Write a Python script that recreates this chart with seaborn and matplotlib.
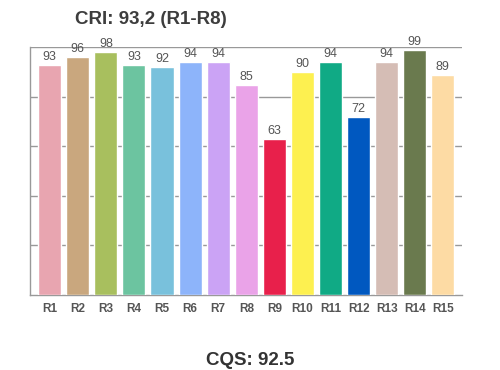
import matplotlib
matplotlib.use("Agg")
import matplotlib.pyplot as plt
import seaborn as sns
import pandas as pd

categories = ["R1", "R2", "R3", "R4", "R5", "R6", "R7", "R8", "R9", "R10", "R11", "R12", "R13", "R14", "R15"]
values = [93, 96, 98, 93, 92, 94, 94, 85, 63, 90, 94, 72, 94, 99, 89]
colors = ["#E8A5B0", "#C9A77E", "#A8BF5E", "#6CC4A0", "#79C1DC", "#8DB4FA", "#CBA3F5", "#EAA3E8",
          "#E8204B", "#FDF050", "#10AA85", "#0058C0", "#D5BDB5", "#6A7A4E", "#FDDBA4"]

sns.set_style("white")
plt.rcParams['font.family'] = ['Liberation Sans', 'DejaVu Sans']

df = pd.DataFrame({"cat": categories, "val": values})
fig = plt.figure(figsize=(5, 3.7), dpi=100)
ax = fig.add_axes([0.06, 0.2027, 0.864, 0.669])
sns.barplot(data=df, x="cat", y="val", hue="cat", palette=colors, legend=False,
            width=0.82, saturation=1, ax=ax, zorder=3)
ax.set_ylim(0, 100)
ax.set_xlim(-0.7, 14.68)
ax.set_yticks([20, 40, 60, 80, 100])
ax.yaxis.grid(True, color="#999999", linewidth=1, zorder=0)
ax.set_axisbelow(True)
ax.tick_params(axis="y", left=False, labelleft=False)
ax.tick_params(axis="x", bottom=False, pad=2)
for lbl in ax.get_xticklabels():
    lbl.set_fontweight("bold")
    lbl.set_color("#555555")
    lbl.set_fontsize(8.5)
for s in ["top", "right"]:
    ax.spines[s].set_visible(False)
for s in ["left", "bottom"]:
    ax.spines[s].set_color("#999999")
    ax.spines[s].set_linewidth(1)
ax.set_xlabel("")
ax.set_ylabel("")
for i, v in enumerate(values):
    ax.text(i, v + 0.8, str(v), ha="center", va="bottom", fontsize=9, color="#555555", zorder=4)

fig.text(0.15, 0.948, "CRI: 93,2 (R1-R8)", fontsize=13.5, fontweight="bold", color="#3d3d3d",
         ha="left", va="center")
fig.text(0.5, 0.026, "CQS: 92.5", fontsize=13.5, fontweight="bold", color="#333333",
         ha="center", va="center")
fig.savefig("out.png", dpi=100)
